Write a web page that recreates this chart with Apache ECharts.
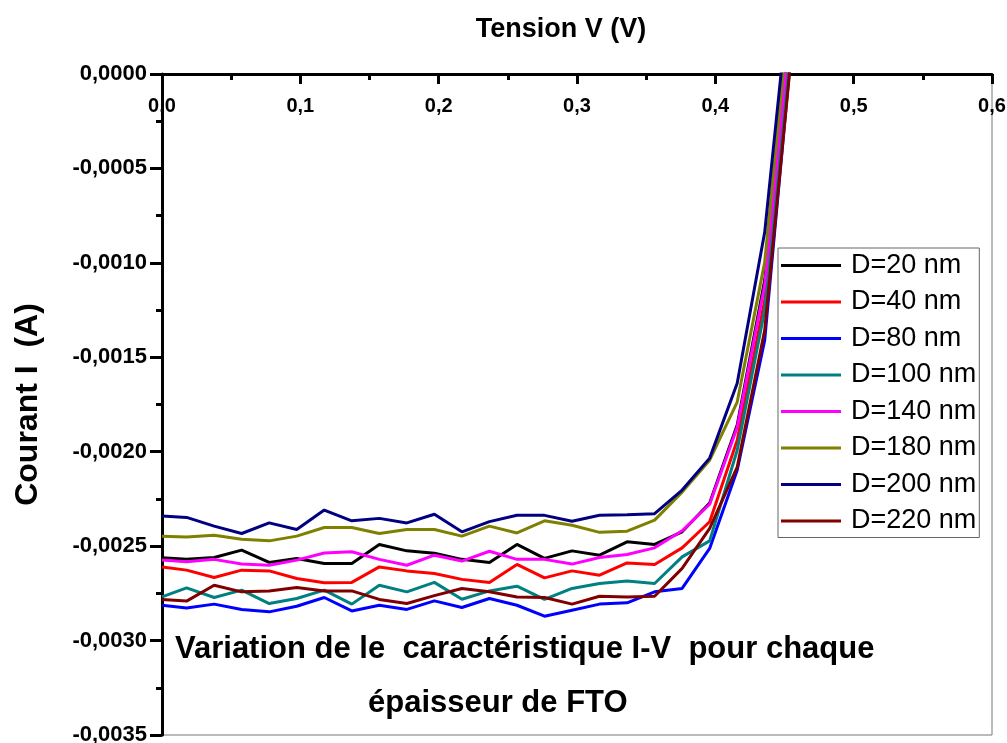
<!DOCTYPE html>
<html>
<head>
<meta charset="utf-8">
<script src="https://cdn.jsdelivr.net/npm/echarts@6/dist/echarts.min.js"></script>
<style>
html,body{margin:0;padding:0;background:#fff;}
#c{width:1007px;height:743px;}
</style>
</head>
<body>
<div id="c"></div>
<script>
// Voltage (V)
var voltage = [0, 0.0178, 0.0377, 0.0576, 0.0775, 0.0974, 0.1173, 0.1372, 0.1571, 0.1770, 0.1969, 0.2168, 0.2367, 0.2566, 0.2765, 0.2964, 0.3163, 0.3362, 0.3561, 0.3760, 0.3959, 0.4158, 0.4357, 0.4556];

var seriesNames = ['D=20 nm', 'D=40 nm', 'D=80 nm', 'D=100 nm', 'D=140 nm', 'D=180 nm', 'D=200 nm', 'D=220 nm'];
var seriesColors = ['#000000', '#ff0000', '#0000ff', '#008080', '#ff00ff', '#808000', '#000080', '#800000'];

// Current (A)
var d20 = [-0.002562, -0.002570, -0.002560, -0.002521, -0.002586, -0.002565, -0.002592, -0.002592, -0.002491, -0.002525, -0.002537, -0.002570, -0.002586, -0.002491, -0.002565, -0.002525, -0.002548, -0.002477, -0.002491, -0.002424, -0.002272, -0.001859, -0.001091, 0.000392];
var d40 = [-0.002610, -0.002627, -0.002666, -0.002627, -0.002631, -0.002671, -0.002694, -0.002692, -0.002610, -0.002631, -0.002645, -0.002676, -0.002692, -0.002597, -0.002668, -0.002631, -0.002654, -0.002589, -0.002597, -0.002509, -0.002371, -0.001939, -0.001197, 0.000286];
var d80 = [-0.002813, -0.002827, -0.002807, -0.002835, -0.002848, -0.002818, -0.002772, -0.002843, -0.002813, -0.002835, -0.002790, -0.002825, -0.002777, -0.002813, -0.002871, -0.002839, -0.002807, -0.002800, -0.002742, -0.002724, -0.002512, -0.002098, -0.001409, 0.000180];
var d100 = [-0.002769, -0.002721, -0.002772, -0.002733, -0.002804, -0.002777, -0.002733, -0.002807, -0.002707, -0.002742, -0.002692, -0.002781, -0.002737, -0.002712, -0.002782, -0.002724, -0.002698, -0.002685, -0.002698, -0.002557, -0.002472, -0.001992, -0.001250, 0.000233];
var d140 = [-0.002574, -0.002583, -0.002570, -0.002595, -0.002601, -0.002574, -0.002536, -0.002530, -0.002570, -0.002601, -0.002548, -0.002579, -0.002527, -0.002570, -0.002570, -0.002595, -0.002560, -0.002544, -0.002509, -0.002419, -0.002278, -0.001870, -0.001118, 0.000366];
var d180 = [-0.002447, -0.002451, -0.002442, -0.002463, -0.002472, -0.002447, -0.002401, -0.002401, -0.002433, -0.002412, -0.002412, -0.002447, -0.002394, -0.002430, -0.002366, -0.002389, -0.002427, -0.002421, -0.002362, -0.002214, -0.002045, -0.001737, -0.000996, 0.000493];
var d200 = [-0.002341, -0.002348, -0.002394, -0.002433, -0.002377, -0.002412, -0.002309, -0.002366, -0.002353, -0.002377, -0.002331, -0.002424, -0.002370, -0.002336, -0.002337, -0.002368, -0.002336, -0.002334, -0.002328, -0.002203, -0.002034, -0.001637, -0.000837, 0.000577];
var d220 = [-0.002782, -0.002791, -0.002707, -0.002742, -0.002737, -0.002719, -0.002737, -0.002737, -0.002782, -0.002804, -0.002762, -0.002724, -0.002742, -0.002769, -0.002772, -0.002807, -0.002765, -0.002769, -0.002765, -0.002618, -0.002406, -0.002082, -0.001356, 0.000154];

var currents = [d20, d40, d80, d100, d140, d180, d200, d220];

var xTitle = 'Tension V (V)';
var yTitle = 'Courant I  (A)';
var note1 = 'Variation de le  caractéristique I-V  pour chaque';
var note2 = 'épaisseur de FTO';

var FONT = 'Arial, "Liberation Sans", sans-serif';

var series = seriesNames.map(function (name, i) {
  return {
    name: name,
    type: 'line',
    symbol: 'none',
    showSymbol: false,
    clip: true,
    lineStyle: { color: seriesColors[i], width: 3 },
    itemStyle: { color: seriesColors[i] },
    data: voltage.map(function (v, k) { return [v, currents[i][k]]; }),
    z: 2 + i
  };
});

var chart = echarts.init(document.getElementById('c'), null, { renderer: 'canvas' });
chart.setOption({
  backgroundColor: '#ffffff',
  animation: false,
  textStyle: { fontFamily: FONT },
  title: {
    text: xTitle,
    left: 556, top: 11, textAlign: 'center',
    textStyle: { fontFamily: FONT, fontWeight: 'bold', fontSize: 27, color: '#000' }
  },
  grid: {
    left: 162, right: 15, top: 74, bottom: 8,
    containLabel: false,
    outerBoundsMode: 'none',
    show: true, borderColor: '#777', borderWidth: 1, backgroundColor: 'transparent'
  },
  legend: {
    orient: 'vertical',
    left: 778, top: 248,
    padding: [4, 3, 3, 3],
    backgroundColor: '#fff',
    borderColor: '#666', borderWidth: 1,
    itemWidth: 60, itemHeight: 14, itemGap: 9.5,
    icon: 'path://M0,6 L60,6 L60,9 L0,9 Z',
    textStyle: { fontFamily: FONT, fontSize: 27, lineHeight: 27, color: '#000', padding: [0, 0, 0, 5] },
    data: seriesNames
  },
  xAxis: {
    type: 'value',
    position: 'top',
    min: 0, max: 0.6, interval: 0.1,
    axisLine: { show: true, onZero: false, lineStyle: { color: '#000', width: 3 } },
    axisTick: { show: true, inside: true, length: 10, lineStyle: { color: '#000', width: 3 } },
    minorTick: { show: true, splitNumber: 2, length: 6, lineStyle: { color: '#000', width: 3 } },
    splitLine: { show: false },
    axisLabel: {
      inside: true, margin: 22,
      fontFamily: FONT, fontWeight: 'bold', fontSize: 20, color: '#000',
      formatter: function (v) { return v.toFixed(1).replace('.', ','); }
    }
  },
  yAxis: {
    type: 'value',
    min: -0.0035, max: 0, interval: 0.0005,
    name: yTitle,
    nameLocation: 'middle',
    nameGap: 106,
    nameRotate: 90,
    nameTextStyle: { fontFamily: FONT, fontWeight: 'bold', fontSize: 32, color: '#000', padding: [0, 0, 12, 0] },
    axisLine: { show: true, onZero: false, lineStyle: { color: '#000', width: 3 } },
    axisTick: { show: true, inside: false, length: 12, lineStyle: { color: '#000', width: 3 } },
    minorTick: { show: true, splitNumber: 2, length: 6, lineStyle: { color: '#000', width: 3 } },
    splitLine: { show: false },
    axisLabel: {
      margin: 15,
      fontFamily: FONT, fontWeight: 'bold', fontSize: 22, color: '#000',
      formatter: function (v) {
        var s = Math.abs(v) < 1e-12 ? '0.0000' : v.toFixed(4);
        return s.replace('.', ',');
      }
    }
  },
  graphic: [
    {
      type: 'text', left: 175, top: 634, z: 100,
      style: { text: note1, fontFamily: FONT, fontWeight: 'bold', fontSize: 31, fill: '#000' }
    },
    {
      type: 'text', left: 368, top: 688, z: 100,
      style: { text: note2, fontFamily: FONT, fontWeight: 'bold', fontSize: 31, fill: '#000' }
    }
  ],
  series: series
});
</script>
</body>
</html>
